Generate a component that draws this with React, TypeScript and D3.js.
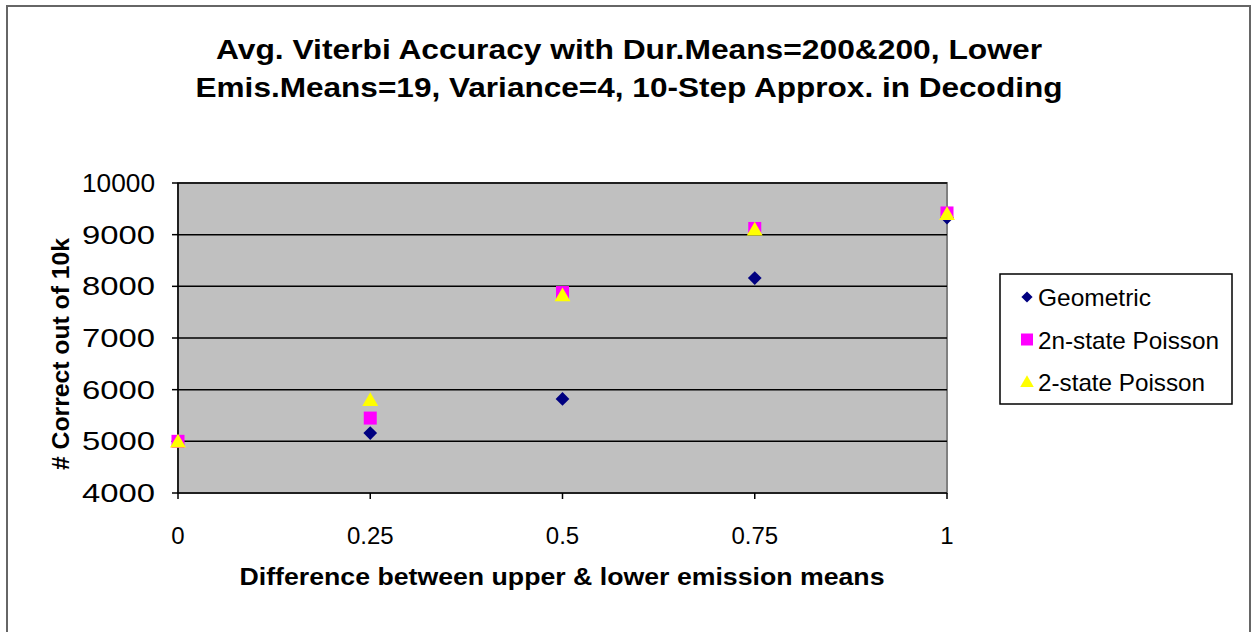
import React from "react";
import * as d3 from "d3";

const xValues = [0, 0.25, 0.5, 0.75, 1];
const geometric = [5000, 5160, 5820, 8160, 9330];
const poisson2n = [5000, 5450, 7880, 9120, 9420];
const poisson2 = [4990, 5790, 7820, 9090, 9390];
const yTicks = [4000, 5000, 6000, 7000, 8000, 9000, 10000];
const xTicks = [0, 0.25, 0.5, 0.75, 1];
const xTickLabels = ["0", "0.25", "0.5", "0.75", "1"];
const titleLines = [
  "Avg. Viterbi Accuracy with Dur.Means=200&200, Lower",
  "Emis.Means=19, Variance=4, 10-Step Approx. in Decoding",
];
const seriesNames = ["Geometric", "2n-state Poisson", "2-state Poisson"];

export default function App() {
  const W = 1252, H = 632;
  const left = 178, right = 947, top = 183, bottom = 493;
  const x = d3.scaleLinear().domain([0, 1]).range([left, right]);
  const y = d3.scaleLinear().domain([4000, 10000]).range([bottom, top]);
  const font = "Arial, 'Liberation Sans', sans-serif";
  const diamond = d3.symbol().type(d3.symbolDiamond2).size(120)();
  const sq = 13;
  const tri = d3.symbol().type(d3.symbolTriangle).size(110)();
  const titleLens = [826, 867];

  return (
    <svg width={W} height={H} style={{ position: "absolute", left: 0, top: 0 }} fontFamily={font}>
      <rect x={0} y={0} width={W} height={H} fill="#fff" />
      <rect x={7} y={6} width={1243} height={640} fill="#fff" stroke="#666" strokeWidth={2} />
      {titleLines.map((t, i) => (
        <text key={i} x={629} y={59 + i * 38} textAnchor="middle" fontSize={28} fontWeight="bold"
          textLength={titleLens[i]} lengthAdjust="spacingAndGlyphs" fill="#000">{t}</text>
      ))}
      <rect x={left} y={top} width={right - left} height={bottom - top} fill="#C0C0C0" stroke="#808080" strokeWidth={2} />
      {yTicks.map((t) => (
        <g key={t}>
          {t > 4000 && <line x1={left} x2={right} y1={y(t)} y2={y(t)} stroke="#000" strokeWidth={1.5} />}
          <line x1={left - 6} x2={left} y1={y(t)} y2={y(t)} stroke="#000" strokeWidth={1.5} />
          <text x={155} y={y(t) + 9} textAnchor="end" fontSize={25} textLength={73} lengthAdjust="spacingAndGlyphs">{t}</text>
        </g>
      ))}
      <line x1={left} x2={left} y1={top} y2={bottom} stroke="#000" strokeWidth={1.5} />
      <line x1={left} x2={right} y1={bottom} y2={bottom} stroke="#000" strokeWidth={1.5} />
      {xTicks.map((t, i) => (
        <g key={t}>
          <line x1={x(t)} x2={x(t)} y1={bottom} y2={bottom + 6} stroke="#000" strokeWidth={1.5} />
          <text x={x(t)} y={bottom + 51} textAnchor="middle" fontSize={24}>{xTickLabels[i]}</text>
        </g>
      ))}
      <text x={562} y={585} textAnchor="middle" fontSize={23} fontWeight="bold" textLength={645} lengthAdjust="spacingAndGlyphs">Difference between upper &amp; lower emission means</text>
      <text transform={`translate(69,354) rotate(-90)`} textAnchor="middle" fontSize={23} fontWeight="bold" textLength={232} lengthAdjust="spacingAndGlyphs"># Correct out of 10k</text>
      {xValues.map((v, i) => (
        <path key={"g" + i} d={diamond} transform={`translate(${x(v)},${y(geometric[i])})`} fill="#000080" />
      ))}
      {xValues.map((v, i) => (
        <rect key={"s" + i} x={x(v) - sq / 2} y={y(poisson2n[i]) - sq / 2} width={sq} height={sq} fill="#FF00FF" />
      ))}
      {xValues.map((v, i) => (
        <path key={"t" + i} d={tri} transform={`translate(${x(v)},${y(poisson2[i]) + 1})`} fill="#FFFF00" />
      ))}
      <rect x={1000} y={274} width={232} height={130} fill="#fff" stroke="#000" strokeWidth={1.5} />
      {seriesNames.map((n, i) => {
        const cy = 297 + i * 42.5;
        const lens = [113, 181, 167];
        return (
          <g key={n}>
            {i === 0 && <path d={d3.symbol().type(d3.symbolDiamond2).size(80)()} transform={`translate(1027,${cy})`} fill="#000080" />}
            {i === 1 && <rect x={1021} y={cy - 6} width={12} height={12} fill="#FF00FF" />}
            {i === 2 && <path d={d3.symbol().type(d3.symbolTriangle).size(80)()} transform={`translate(1027,${cy + 1})`} fill="#FFFF00" />}
            <text x={1038} y={cy + 9} fontSize={24} textLength={lens[i]} lengthAdjust="spacingAndGlyphs">{n}</text>
          </g>
        );
      })}
    </svg>
  );
}
